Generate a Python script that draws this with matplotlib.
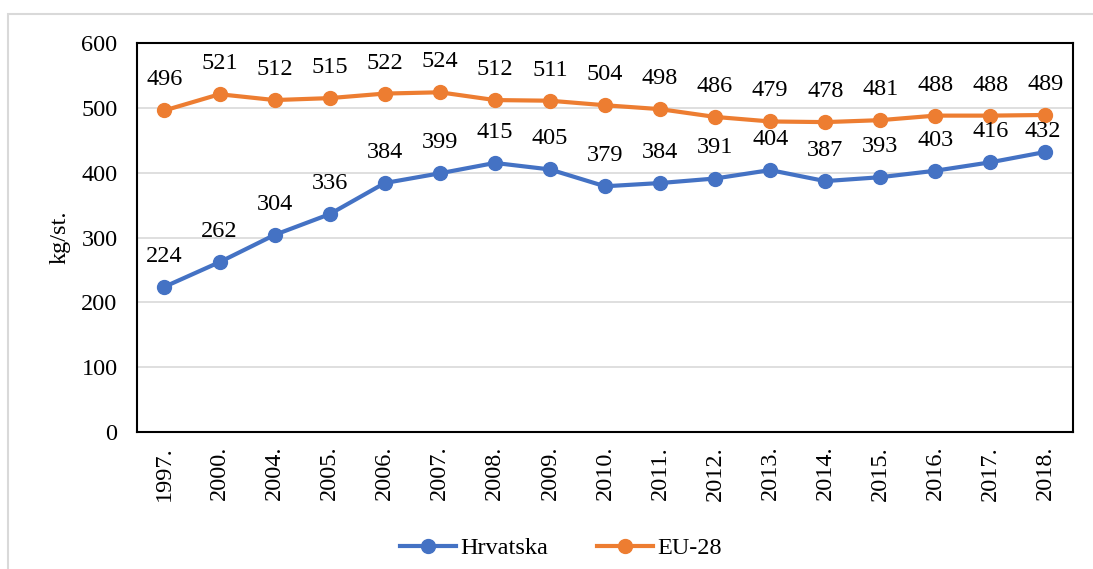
import matplotlib.pyplot as plt
from matplotlib.patches import Rectangle

years = ["1997.", "2000.", "2004.", "2005.", "2006.", "2007.", "2008.", "2009.", "2010.",
         "2011.", "2012.", "2013.", "2014.", "2015.", "2016.", "2017.", "2018."]
hrvatska = [224, 262, 304, 336, 384, 399, 415, 405, 379, 384, 391, 404, 387, 393, 403, 416, 432]
eu28 = [496, 521, 512, 515, 522, 524, 512, 511, 504, 498, 486, 479, 478, 481, 488, 488, 489]

plt.rcParams['font.family'] = ['Liberation Serif', 'DejaVu Serif']
fs = 17.5

fig = plt.figure(figsize=(10.93, 5.69), dpi=100)
ax = fig.add_axes([0.1253, 0.2408, 0.8564, 0.6836])

# outer chart border
fig.patches.append(Rectangle((8 / 1093, -0.05), 1.2, 1 - 14 / 569 + 0.05,
                             transform=fig.transFigure, fill=False,
                             edgecolor='#d9d9d9', lw=1.5))

x = list(range(len(years)))
ax.plot(x, hrvatska, color='#4472C4', lw=3, marker='o', ms=10, label='Hrvatska')
ax.plot(x, eu28, color='#ED7D31', lw=3, marker='o', ms=10, label='EU-28')

for xi, v in zip(x, hrvatska):
    # last label sits lower so it doesn't hit the orange line
    dy = 15 if xi == len(x) - 1 else 22
    ax.annotate(str(v), (xi, v), xytext=(-2 if dy == 15 else 0, dy), textcoords='offset points',
                ha='center', va='center', fontsize=fs)
for xi, v in zip(x, eu28):
    ax.annotate(str(v), (xi, v), xytext=(0, 22), textcoords='offset points',
                ha='center', va='center', fontsize=fs)

ax.set_xlim(-0.5, len(years) - 0.5)
ax.set_ylim(0, 600)
ax.set_yticks(range(0, 601, 100))
ax.set_xticks(x)
ax.set_xticklabels(years, rotation=90)
ax.tick_params(axis='both', length=0, labelsize=fs)
ax.tick_params(axis='y', pad=14)
ax.tick_params(axis='x', pad=10)
ax.grid(axis='y', color='#d9d9d9', lw=1.2)
ax.set_axisbelow(True)
for s in ax.spines.values():
    s.set_color('black')
    s.set_linewidth(1.5)

ax.set_ylabel('kg/st.', fontsize=fs, labelpad=8)

fig.legend(loc='center', bbox_to_anchor=(561 / 1093, 1 - 548 / 569), ncol=2,
           frameon=False, fontsize=fs, handlelength=2.3, columnspacing=2.0,
           handletextpad=0.2)

fig.savefig('out.png', dpi=100)
